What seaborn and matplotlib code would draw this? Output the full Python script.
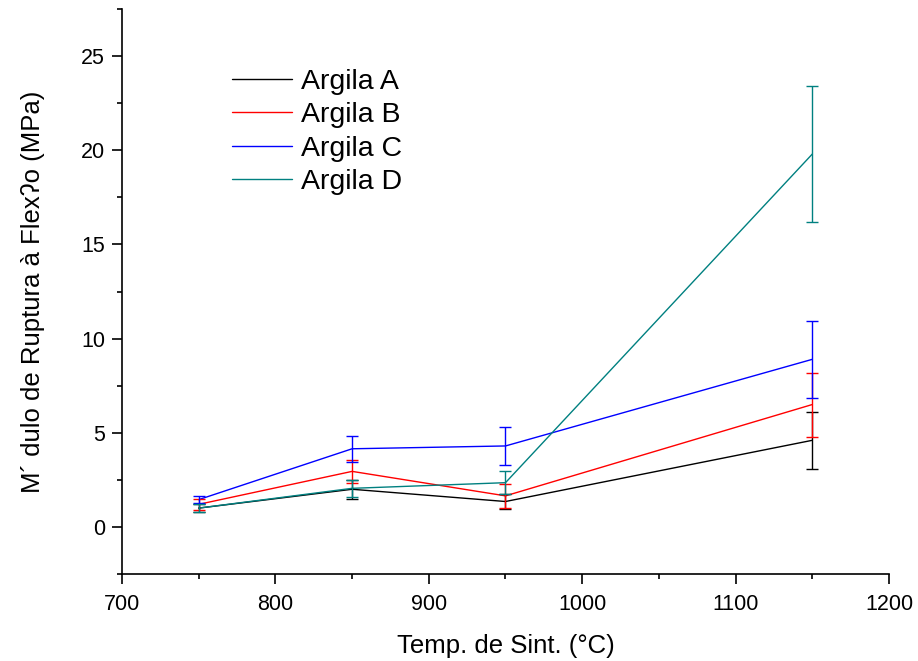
import matplotlib
matplotlib.use("Agg")
import matplotlib.pyplot as plt
import seaborn as sns
import pandas as pd
from matplotlib.ticker import MultipleLocator

temps = [750, 850, 950, 1150]
series_names = ["Argila A", "Argila B", "Argila C", "Argila D"]
argila_a = [1.0, 2.0, 1.35, 4.6]
argila_b = [1.2, 2.95, 1.65, 6.5]
argila_c = [1.45, 4.15, 4.3, 8.9]
argila_d = [1.0, 2.05, 2.35, 19.8]
err_a = [0.2, 0.5, 0.4, 1.5]
err_b = [0.3, 0.6, 0.65, 1.7]
err_c = [0.2, 0.7, 1.0, 2.05]
err_d = [0.2, 0.45, 0.6, 3.6]
colors = ["#000000", "#ff0000", "#0000ff", "#008080"]

values = [argila_a, argila_b, argila_c, argila_d]
errors = [err_a, err_b, err_c, err_d]

rows = []
for name, vals, errs in zip(series_names, values, errors):
    for t, v, e in zip(temps, vals, errs):
        rows.append({"Temp": t, "Valor": v, "Erro": e, "Serie": name})
df = pd.DataFrame(rows)

sns.set_style("ticks")
plt.rcParams["font.family"] = ["Liberation Sans", "DejaVu Sans"]
plt.rcParams["text.color"] = "black"
plt.rcParams["axes.labelcolor"] = "black"
plt.rcParams["xtick.color"] = "black"
plt.rcParams["ytick.color"] = "black"

fig = plt.figure(figsize=(9.18, 6.61), dpi=100)
ax = fig.add_axes([0.1329, 0.1316, 0.8355, 0.8547])

sns.lineplot(data=df, x="Temp", y="Valor", hue="Serie", palette=colors,
             linewidth=1.0, ax=ax, legend=True)
for name, col in zip(series_names, colors):
    sub = df[df["Serie"] == name]
    ax.errorbar(sub["Temp"], sub["Valor"], yerr=sub["Erro"], fmt="none",
                ecolor=col, elinewidth=1.0, capsize=4.3, capthick=1.0)

ax.set_xlim(700, 1200)
ax.set_ylim(-2.5, 27.5)
ax.xaxis.set_major_locator(MultipleLocator(100))
ax.xaxis.set_minor_locator(MultipleLocator(50))
ax.yaxis.set_major_locator(MultipleLocator(5))
ax.yaxis.set_minor_locator(MultipleLocator(2.5))
ax.tick_params(axis="both", which="major", direction="out", length=7.2, width=1.2,
               labelsize=15.5, colors="black")
ax.tick_params(axis="x", which="major", pad=7)
ax.tick_params(axis="y", which="major", pad=5)
ax.tick_params(axis="both", which="minor", direction="out", length=3.6, width=1.2)
for s in ["top", "right"]:
    ax.spines[s].set_visible(False)
for s in ["left", "bottom"]:
    ax.spines[s].set_linewidth(1.2)
    ax.spines[s].set_color("black")

ax.set_xlabel("Temp. de Sint. (°C)", fontsize=18.5, labelpad=14)
ax.set_ylabel("M´ dulo de Ruptura à Flex\u0294o (MPa)", fontsize=18.5, labelpad=26)

leg = ax.legend(loc="upper left", bbox_to_anchor=(0.129, 0.914), frameon=False,
                fontsize=20.5, handlelength=2.1, labelspacing=0.26, handletextpad=0.3,
                borderaxespad=0)
for line in leg.get_lines():
    line.set_linewidth(1.0)

fig.savefig("out.png", dpi=100)
